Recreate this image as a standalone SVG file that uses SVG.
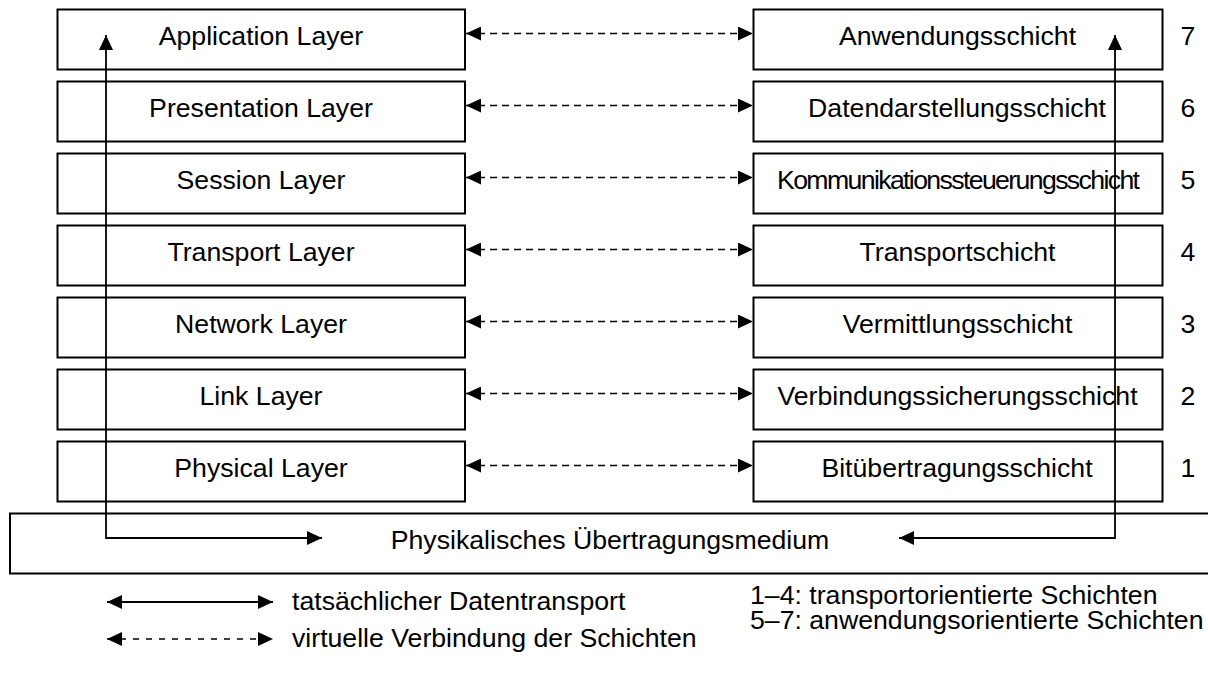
<svg xmlns="http://www.w3.org/2000/svg" width="1208" height="673" viewBox="0 0 1208 673">
<style>
.box{fill:#fff;stroke:#000;stroke-width:2}
.t{font-family:"Liberation Sans",Arial,sans-serif;font-size:26.67px;fill:#000}
.c{text-anchor:middle}
.ln{fill:none;stroke:#000;stroke-width:1.8}
.sol{marker-start:url(#ah);marker-end:url(#ah)}
.dash{stroke-dasharray:7 5;stroke-width:1.6}
.ldash{stroke-dasharray:6 7;stroke-width:1.6}
</style>
<defs>
<marker id="ah" viewBox="0 0 15 14" refX="15" refY="7" markerWidth="15" markerHeight="14" markerUnits="userSpaceOnUse" orient="auto-start-reverse">
<path d="M0,0 L15,7 L0,14 z" fill="#000"/>
</marker>
</defs>
<rect width="1208" height="673" fill="#fff"/>
<g id="medium"><rect class="box" x="10" y="513.5" width="1210" height="60"/><text class="t c" x="610" y="549">Physikalisches Übertragungsmedium</text></g>
<g id="l7"><rect class="box" x="57.5" y="9.5" width="407.5" height="60"/><text class="t c" x="261" y="45">Application Layer</text></g>
<g id="l6"><rect class="box" x="57.5" y="81.5" width="407.5" height="60"/><text class="t c" x="261" y="117">Presentation Layer</text></g>
<g id="l5"><rect class="box" x="57.5" y="153.5" width="407.5" height="60"/><text class="t c" x="261" y="189">Session Layer</text></g>
<g id="l4"><rect class="box" x="57.5" y="225.5" width="407.5" height="60"/><text class="t c" x="261" y="261">Transport Layer</text></g>
<g id="l3"><rect class="box" x="57.5" y="297.5" width="407.5" height="60"/><text class="t c" x="261" y="333">Network Layer</text></g>
<g id="l2"><rect class="box" x="57.5" y="369.5" width="407.5" height="60"/><text class="t c" x="261" y="405">Link Layer</text></g>
<g id="l1"><rect class="box" x="57.5" y="441.5" width="407.5" height="60"/><text class="t c" x="261" y="477">Physical Layer</text></g>
<g id="r7"><rect class="box" x="753.5" y="9.5" width="409" height="60"/><text class="t c" x="957.5" y="45">Anwendungsschicht</text></g>
<g id="r6"><rect class="box" x="753.5" y="81.5" width="409" height="60"/><text class="t c" x="957" y="117">Datendarstellungsschicht</text></g>
<g id="r5"><rect class="box" x="753.5" y="153.5" width="409" height="60"/><text class="t c" x="958.5" y="189" textLength="363" lengthAdjust="spacing">Kommunikationssteuerungsschicht</text></g>
<g id="r4"><rect class="box" x="753.5" y="225.5" width="409" height="60"/><text class="t c" x="957.5" y="261">Transportschicht</text></g>
<g id="r3"><rect class="box" x="753.5" y="297.5" width="409" height="60"/><text class="t c" x="957.5" y="333">Vermittlungsschicht</text></g>
<g id="r2"><rect class="box" x="753.5" y="369.5" width="409" height="60"/><text class="t c" x="957.5" y="405">Verbindungssicherungsschicht</text></g>
<g id="r1"><rect class="box" x="753.5" y="441.5" width="409" height="60"/><text class="t c" x="957" y="477">Bitübertragungsschicht</text></g>
<g id="numbers">
<text class="t c" x="1188" y="45">7</text>
<text class="t c" x="1188" y="117">6</text>
<text class="t c" x="1188" y="189">5</text>
<text class="t c" x="1188" y="261">4</text>
<text class="t c" x="1188" y="333">3</text>
<text class="t c" x="1188" y="405">2</text>
<text class="t c" x="1188" y="477">1</text>
</g>
<g id="connectors">
<line class="ln dash sol" x1="466" y1="33.5" x2="753" y2="33.5"/>
<line class="ln dash sol" x1="466" y1="105.5" x2="753" y2="105.5"/>
<line class="ln dash sol" x1="466" y1="177.5" x2="753" y2="177.5"/>
<line class="ln dash sol" x1="466" y1="249.5" x2="753" y2="249.5"/>
<line class="ln dash sol" x1="466" y1="321.5" x2="753" y2="321.5"/>
<line class="ln dash sol" x1="466" y1="393.5" x2="753" y2="393.5"/>
<line class="ln dash sol" x1="466" y1="465.5" x2="753" y2="465.5"/>
<path class="ln sol" d="M322,538 L106,538 L106,35"/>
<path class="ln sol" d="M899,538 L1115,538 L1115,35"/>
</g>
<g id="legend">
<line class="ln sol" x1="107" y1="602" x2="273" y2="602"/>
<line class="ln ldash sol" x1="107" y1="639" x2="273" y2="639"/>
<text class="t" x="292" y="610">tatsächlicher Datentransport</text>
<text class="t" x="292" y="647">virtuelle Verbindung der Schichten</text>
<text class="t" x="750" y="604">1–4: transportorientierte Schichten</text>
<text class="t" x="750" y="629">5–7: anwendungsorientierte Schichten</text>
</g>
</svg>
